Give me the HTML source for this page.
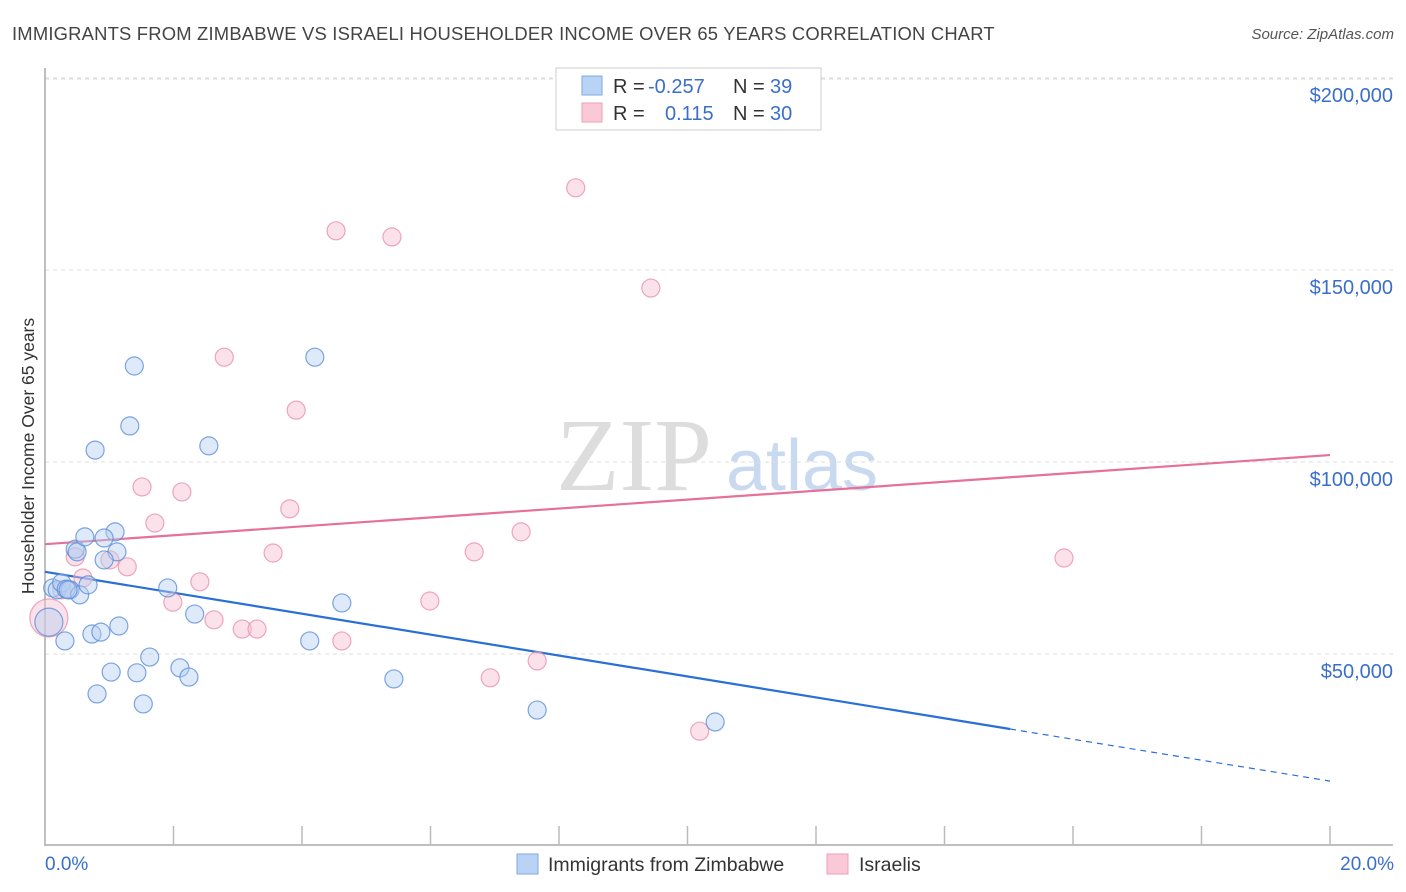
<!DOCTYPE html>
<html><head><meta charset="utf-8">
<style>
body{margin:0;background:#fff;font-family:"Liberation Sans",sans-serif;}
svg{display:block}
</style></head>
<body>
<svg id="chart" width="1406" height="892" xmlns="http://www.w3.org/2000/svg">
<text x="12" y="40" font-size="18.4" letter-spacing="0.2" fill="#444">IMMIGRANTS FROM ZIMBABWE VS ISRAELI HOUSEHOLDER INCOME OVER 65 YEARS CORRELATION CHART</text>
<text x="1394" y="39" font-size="15" fill="#555" font-style="italic" text-anchor="end">Source: ZipAtlas.com</text>
<text transform="translate(34,456) rotate(-90)" font-size="17.5" fill="#333" text-anchor="middle">Householder Income Over 65 years</text>
<g>
<text x="634" y="490" font-size="104" font-family="Liberation Serif,serif" fill="#ddd" text-anchor="middle">ZIP</text>
<text x="802" y="490" font-size="72" fill="#c9daf0" text-anchor="middle">atlas</text>
</g>
<g id="grid"></g>
<g id="axes"></g>
<g id="trend"></g>
<g id="points"></g>
<g>
<rect x="556" y="68" width="265" height="62" fill="#fff" stroke="#ccc"/>
<rect x="582" y="76" width="20" height="19" fill="#b9d3f5" stroke="#7fa8e0"/>
<rect x="582" y="103" width="20" height="19" fill="#f9c9d7" stroke="#ef9fb8"/>
<text x="613" y="93" font-size="20" fill="#333">R = </text>
<text x="648" y="93" font-size="20" fill="#3a6fc9">-0.257</text>
<text x="733" y="93" font-size="20" fill="#333">N = </text>
<text x="770" y="93" font-size="20" fill="#3a6fc9">39</text>
<text x="613" y="120" font-size="20" fill="#333">R = </text>
<text x="665" y="120" font-size="20" fill="#3a6fc9">0.115</text>
<text x="733" y="120" font-size="20" fill="#333">N = </text>
<text x="770" y="120" font-size="20" fill="#3a6fc9">30</text>
</g>
<g>
<rect x="517" y="854" width="21" height="20" fill="#b9d3f5" stroke="#7fa8e0"/>
<text x="548" y="871" font-size="19.5" fill="#333">Immigrants from Zimbabwe</text>
<rect x="827" y="854" width="21" height="20" fill="#f9c9d7" stroke="#ef9fb8"/>
<text x="859" y="871" font-size="19.5" fill="#333">Israelis</text>
</g>
</svg>
<script>
const blueX=[0.06,0.12,0.19,0.26,0.39,0.33,0.54,0.47,0.50,0.62,0.67,1.09,1.12,0.92,0.92,0.73,0.87,1.15,0.31,0.81,1.03,1.43,1.53,1.63,2.10,2.24,1.91,2.33,1.39,1.32,0.78,2.55,4.20,4.12,4.62,5.43,7.66,10.43,0.36];
const blueY=[58300,67200,66700,68500,66700,66900,65400,77300,76600,80500,68000,81800,76600,74500,80200,55200,55700,57300,53400,39600,45300,45100,37000,49200,46400,44000,67200,60400,125000,109400,103100,104200,127300,53400,63300,43500,35400,32300,66700];
const pinkX=[0.06,0.26,0.47,0.59,1.01,1.28,1.51,1.71,2.13,1.99,2.41,2.63,2.79,3.07,3.30,3.55,3.81,3.91,4.53,4.62,5.40,5.99,6.68,6.93,7.41,7.66,8.26,9.43,10.19,15.86];
const pinkY=[59400,66700,75300,69800,74500,72700,93500,84100,92200,63500,68800,58900,127300,56500,56500,76300,87800,113500,160200,53400,158600,63800,76600,43800,81800,48200,171400,145300,29900,75000];
const yTicks=[50000,100000,150000,200000];
const yTickLabels=["$50,000","$100,000","$150,000","$200,000"];
const xTicks=[0,2,4,6,8,10,12,14,16,18,20];
const blueTrend=[71400,16900]; const blueSolidEnd=15.02;
const pinkTrend=[78600,101800];

const NS="http://www.w3.org/2000/svg";
const sx=v=>45+v/20*1285;
const sy=v=>846-v/50000*192;
function mk(tag,attrs,parent){const e=document.createElementNS(NS,tag);for(const k in attrs)e.setAttribute(k,attrs[k]);document.getElementById(parent).appendChild(e);return e;}

yTicks.forEach((t,i)=>{
  const l=mk('line',{x1:45,x2:1393,y1:sy(t),y2:sy(t),stroke:'#ddd','stroke-dasharray':'4,4'},'grid');
  
  
  const tx=mk('text',{x:1393,y:sy(t)+24,'font-size':20,fill:'#3a6fc9','text-anchor':'end'},'grid');
  tx.textContent=yTickLabels[i];
  
  
});
const topG=mk('line',{x1:45,x2:1393,y1:79,y2:79,stroke:'#ddd','stroke-dasharray':'4,4'},'grid');


const ya=mk('line',{x1:45,x2:45,y1:68,y2:846,stroke:'#aaa','stroke-width':1.5},'axes');


const xa=mk('line',{x1:45,x2:1393,y1:845,y2:845,stroke:'#aaa','stroke-width':1.5},'axes');


xTicks.forEach(t=>{
  const l=mk('line',{x1:sx(t),x2:sx(t),y1:826,y2:845,stroke:'#bbb','stroke-width':1.5},'axes');
  
  
});
const xl0=mk('text',{x:45,y:870,'font-size':19,fill:'#3a6fc9'},'axes');xl0.textContent='0.0%';


const xl1=mk('text',{x:1394,y:870,'font-size':19,fill:'#3a6fc9','text-anchor':'end'},'axes');xl1.textContent='20.0%';



function drawPts(xs,ys,fill,stroke,name){
  xs.forEach((x,i)=>{
    const r=(i===0)?(name==='pink-point'?19:14):9;
    const c=mk('circle',{cx:sx(x),cy:sy(ys[i]),r:r,fill:fill,'fill-opacity':0.45,stroke:stroke,'stroke-opacity':0.8,'stroke-width':1.2},'points');
    
    
  });
}
drawPts(pinkX,pinkY,'#f7bfd0','#e891ad','pink-point');
drawPts(blueX,blueY,'#b5cff2','#5d8fd8','blue-point');

const bAt=x=>blueTrend[0]+(blueTrend[1]-blueTrend[0])*x/20;
const bt=mk('line',{x1:sx(0),y1:sy(bAt(0)),x2:sx(blueSolidEnd),y2:sy(bAt(blueSolidEnd)),stroke:'#2a6fd6','stroke-width':2.2},'trend');


const bd=mk('line',{x1:sx(blueSolidEnd),y1:sy(bAt(blueSolidEnd)),x2:sx(20),y2:sy(bAt(20)),stroke:'#2a6fd6','stroke-width':1.2,'stroke-dasharray':'6,5'},'trend');


const pt=mk('line',{x1:sx(0),y1:sy(pinkTrend[0]),x2:sx(20),y2:sy(pinkTrend[1]),stroke:'#e5719a','stroke-width':2.2},'trend');


</script>
</body></html>
